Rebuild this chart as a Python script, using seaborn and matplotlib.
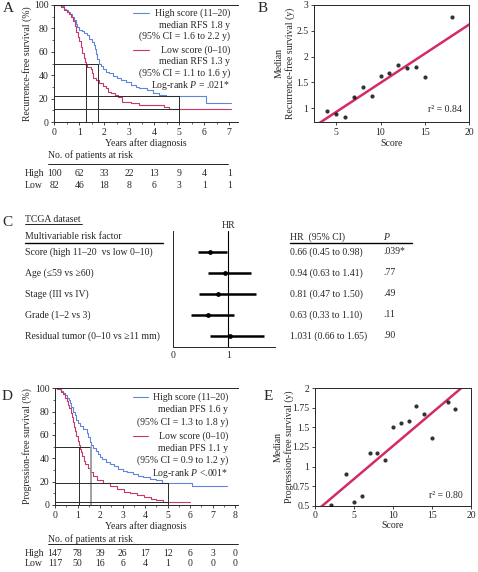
import numpy as np
import matplotlib
matplotlib.use('Agg')
import matplotlib.pyplot as plt
from matplotlib.lines import Line2D
from matplotlib.ticker import MultipleLocator, FixedLocator
from matplotlib.transforms import blended_transform_factory
import seaborn as sns

# ---------------- data ----------------
# Panel A: recurrence-free survival (Kaplan-Meier steps)
A_high_time = [0, 0.28, 0.38, 0.45, 0.55, 0.62, 0.7, 0.78, 0.85, 0.92, 1.0, 1.1, 1.2, 1.3, 1.4, 1.5,
               1.58, 1.64, 1.68, 1.72, 1.78, 1.85, 1.95, 2.05, 2.2, 2.35, 2.5, 2.65, 2.85, 3.05, 3.25,
               3.4, 3.7, 3.95, 4.2, 4.45, 6.05, 7.05]
A_high_surv = [100, 99, 97, 95.5, 94, 92.5, 90, 87, 84, 81, 79, 77.5, 76, 74, 71, 68.5,
               66, 62, 58, 54, 50, 47.5, 45, 43, 41.5, 39.5, 38, 36, 34, 32, 30,
               29, 27.5, 25, 23.5, 22, 16, 16]
A_low_time = [0, 0.25, 0.4, 0.5, 0.6, 0.68, 0.75, 0.82, 0.88, 0.94, 1.0, 1.06, 1.12, 1.18, 1.22,
              1.26, 1.32, 1.45, 1.5, 1.56, 1.66, 1.8, 1.95, 2.08, 2.16, 2.28, 2.42, 2.55, 2.7,
              3.05, 3.4, 4.4, 4.6, 7.05]
A_low_surv = [100, 98, 96, 94, 92, 90, 86, 82, 77, 73, 69, 64, 59, 55, 51,
              48.5, 47, 45.5, 42, 38, 36, 33, 30.5, 29, 26, 24.5, 23.5, 21.5, 17.5,
              16, 14.5, 13, 11, 11]
A_medians = [1.27, 1.73]          # low, high
A_five_year = [11, 22]            # low, high
A_years = [0, 1, 2, 3, 4, 5, 6, 7]
A_risk_high = [100, 62, 33, 22, 13, 9, 4, 1]
A_risk_low = [82, 46, 18, 8, 6, 3, 1, 1]

# Panel B: median RFS vs score
B_score = [4, 5, 6, 7, 8, 9, 10, 11, 12, 13, 14, 15, 18]
B_median = [0.95, 0.89, 0.83, 1.22, 1.40, 1.24, 1.63, 1.69, 1.83, 1.78, 1.79, 1.60, 2.76]

# Panel C: forest plot (TCGA)
C_factors = ["Score (high 11\u201320  vs low 0\u201310)", "Age (\u226459 vs \u226560)",
             "Stage (III vs IV)", "Grade (1\u20132 vs 3)", "Residual tumor (0\u201310 vs \u226511 mm)"]
C_hr = [0.66, 0.94, 0.81, 0.63, 1.031]
C_lo = [0.45, 0.63, 0.47, 0.33, 0.66]
C_hi = [0.98, 1.41, 1.50, 1.10, 1.65]
C_hr_text = ["0.66 (0.45 to 0.98)", "0.94 (0.63 to 1.41)", "0.81 (0.47 to 1.50)",
             "0.63 (0.33 to 1.10)", "1.031 (0.66 to 1.65)"]
C_p = [".039*", ".77", ".49", ".11", ".90"]

# Panel D: progression-free survival
D_high_time = [0, 0.15, 0.25, 0.35, 0.45, 0.52, 0.6, 0.67, 0.73, 0.8, 0.87, 0.93, 1.0, 1.1, 1.25,
               1.4, 1.48, 1.55, 1.62, 1.7, 1.8, 1.9, 2.0, 2.1, 2.25, 2.45, 2.6, 2.8, 3.0, 3.2,
               3.45, 3.7, 3.9, 4.2, 4.5, 4.75, 6.1, 7.65]
D_high_surv = [100, 99, 97.5, 96, 94, 92, 90, 87, 84, 80, 77, 73, 70, 67.5, 65,
               62, 58, 54, 51, 49, 46, 43.5, 41, 39, 37, 35, 33, 31, 29.5, 28,
               26.5, 25, 24, 22.5, 21, 19, 16, 16]
D_low_time = [0, 0.1, 0.25, 0.35, 0.45, 0.52, 0.58, 0.64, 0.7, 0.75, 0.8, 0.85, 0.9, 0.95, 1.0,
              1.05, 1.1, 1.15, 1.2, 1.27, 1.35, 1.45, 1.55, 1.7, 1.85, 2.15, 2.45, 2.75, 3.05,
              3.35, 3.65, 3.95, 4.25, 4.5, 4.8, 6.0]
D_low_surv = [100, 99, 97, 95, 92, 89, 86, 83, 79, 75, 71, 67, 63, 59, 55,
              51, 48, 45, 42, 38, 35, 32, 28, 25, 21, 19, 16, 13.5, 11.5,
              10, 8.5, 7, 5.5, 4.5, 2.5, 2.5]
D_medians = [1.08, 1.59]
D_five_year = [2.5, 19]
D_years = [0, 1, 2, 3, 4, 5, 6, 7, 8]
D_risk_high = [147, 78, 39, 26, 17, 12, 6, 3, 0]
D_risk_low = [117, 50, 16, 6, 4, 1, 0, 0, 0]

# Panel E: median PFS vs score
E_score = [2, 4, 5, 6, 7, 8, 9, 10, 11, 12, 13, 14, 15, 17, 18]
E_median = [0.51, 0.91, 0.55, 0.63, 1.17, 1.17, 1.08, 1.50, 1.56, 1.58, 1.78, 1.67, 1.36, 1.83, 1.74]

# ---------------- style ----------------
sns.set_style('ticks')
plt.rcParams['font.family'] = ['Liberation Serif', 'DejaVu Serif']
plt.rcParams['mathtext.fontset'] = 'custom'
plt.rcParams['mathtext.rm'] = 'Liberation Serif'
plt.rcParams['mathtext.it'] = 'Liberation Serif:italic'
plt.rcParams['axes.linewidth'] = 0.7

FS = 7
BLUE = '#5f86dc'
PINK = '#c8386c'
REG = '#d42a6a'
REFC = '#2a2a2a'

W, H = 478, 572
fig = plt.figure(figsize=(W / 100, H / 100), dpi=100)


def rect(l, t, r, b):
    return [l / W, 1 - b / H, (r - l) / W, (b - t) / H]


def ftext(x, y, s, **kw):
    kw.setdefault('fontsize', FS)
    return fig.text(x / W, 1 - y / H, s, **kw)


def fline(x1, x2, y, lw=0.6, color='black'):
    fig.add_artist(Line2D([x1 / W, x2 / W], [1 - y / H, 1 - y / H], lw=lw, color=color))


def style_ticks(ax):
    ax.tick_params(which='major', direction='out', length=2.5, width=0.6, labelsize=FS, pad=1.5)
    ax.tick_params(which='minor', direction='out', length=1.5, width=0.5)


def km_panel(ax, ht, hs, lt, ls, meds, fy, xmax, years, risk_hi, risk_lo, y_table, y_hi, y_lo,
             leg_lines, leg_right, leg_y, line_x, med_colors):
    sns.lineplot(x=ht, y=hs, ax=ax, drawstyle='steps-post', color=BLUE, lw=0.8, estimator=None)
    sns.lineplot(x=lt, y=ls, ax=ax, drawstyle='steps-post', color=PINK, lw=0.8, estimator=None)
    # median and 5-year reference lines
    ax.plot([0, meds[1]], [50, 50], color=REFC, lw=0.7)
    ax.plot([meds[0], meds[0]], [0, 50], color=med_colors[0], lw=0.7)
    ax.plot([meds[1], meds[1]], [0, 50], color=med_colors[1], lw=0.7 if med_colors[1] == REFC else 1.3)
    ax.plot([0, 5], [fy[1], fy[1]], color=REFC, lw=0.7)
    ax.plot([0, 5], [fy[0], fy[0]], color=REFC, lw=0.7)
    ax.plot([5, 5], [0, fy[1]], color=REFC, lw=0.7)
    ax.set_xlim(0, xmax)
    ax.set_ylim(0, 100)
    ax.xaxis.set_major_locator(MultipleLocator(1))
    ax.xaxis.set_minor_locator(MultipleLocator(0.5))
    ax.yaxis.set_major_locator(MultipleLocator(20))
    ax.yaxis.set_minor_locator(MultipleLocator(10))
    ax.set_xlabel('')
    ax.set_ylabel('')
    style_ticks(ax)
    sns.despine(ax=ax, top=False, right=True)
    # legend (text right aligned)
    for txt, y in zip(leg_lines, leg_y):
        ftext(leg_right, y, txt, ha='right', va='center')
    fline(line_x[0], line_x[1], leg_y[0], lw=0.8, color=BLUE)
    fline(line_x[0], line_x[1], leg_y[3], lw=0.8, color=PINK)
    # risk table
    tr = blended_transform_factory(ax.transData, fig.transFigure)
    for yr, a, b in zip(years, risk_hi, risk_lo):
        ax.text(yr, 1 - y_hi / H, str(a), transform=tr, ha='center', va='center', fontsize=FS)
        ax.text(yr, 1 - y_lo / H, str(b), transform=tr, ha='center', va='center', fontsize=FS)
    ftext(25, y_hi, 'High', ha='left', va='center')
    ftext(25, y_lo, 'Low', ha='left', va='center')
    ftext(48, y_table, 'No. of patients at risk', ha='left', va='center')


# ---------------- Panel A ----------------
axA = fig.add_axes(rect(54.3, 5, 238, 122))
km_panel(axA, A_high_time, A_high_surv, A_low_time, A_low_surv, A_medians, A_five_year, 7.35,
         A_years, A_risk_high, A_risk_low, 155.5, 173, 186,
         ["High score (11\u201320)", "median RFS 1.8 y", "(95% CI = 1.6 to 2.2 y)",
          "Low score (0\u201310)", "median RFS 1.3 y", "(95% CI = 1.1 to 1.6 y)",
          "Log-rank $P$ = .021*"],
         230, [13, 25, 36.5, 50, 62, 73.5, 86], (133, 149), (REFC, REFC))
fline(48, 228, 163.5, lw=0.6)
ftext(27, 63.5, 'Recurrence-free survival (%)', rotation=90, ha='center', va='center')
ftext(146, 143.5, 'Years after diagnosis', ha='center', va='center')

# ---------------- Panel B ----------------
axB = fig.add_axes(rect(314, 5, 469.3, 122))
axB.set_xlim(2.5, 20)
axB.set_ylim(0.73, 3)
sns.regplot(x=B_score, y=B_median, ax=axB, ci=None, truncate=False,
            scatter_kws=dict(s=9, color='black', linewidths=0, zorder=3),
            line_kws=dict(color=REG, lw=1.8, zorder=2))
axB.set_xlim(2.5, 20)
axB.set_ylim(0.73, 3)
axB.xaxis.set_major_locator(FixedLocator([5, 10, 15, 20]))
axB.yaxis.set_major_locator(FixedLocator([1, 1.5, 2, 2.5, 3]))
axB.set_yticklabels(['1', '1.5', '2', '2.5', '3'])
axB.set_xticklabels(['5', '10', '15', '20'])
style_ticks(axB)
sns.despine(ax=axB, top=False, right=False)
axB.set_xlabel('')
axB.set_ylabel('')
ftext(285, 63.5, 'Median\nRecurrence-free survival (y)', rotation=90, ha='center', va='center',
      multialignment='center', linespacing=1.15)
ftext(392, 143.5, 'Score', ha='center', va='center')
ftext(462, 110, 'r\u00b2 = 0.84', ha='right', va='center')

# ---------------- Panel C ----------------
axC = fig.add_axes(rect(173, 230.7, 275, 346.7))
rows = np.arange(len(C_hr))
axC.hlines(y=rows, xmin=C_lo, xmax=C_hi, color='black', lw=1.8)
sns.scatterplot(x=C_hr, y=rows, ax=axC, color='black', s=12, linewidth=0, zorder=3)
axC.axvline(1, color='black', lw=0.8)
axC.set_xlim(0, 1.84)
axC.set_ylim(4.52, -1.0)
axC.set_yticks([])
axC.xaxis.set_major_locator(FixedLocator([0, 1]))
axC.set_xticklabels(['0', '1'])
style_ticks(axC)
axC.tick_params(axis='x', length=0, pad=3)
sns.despine(ax=axC, top=True, right=True)
axC.set_xlabel('')
axC.set_ylabel('')
trC = blended_transform_factory(fig.transFigure, axC.transData)
for i in rows:
    axC.text(25 / W, i, C_factors[i], transform=trC, ha='left', va='center', fontsize=FS)
    axC.text(290 / W, i, C_hr_text[i], transform=trC, ha='left', va='center', fontsize=FS)
    axC.text(383 / W, i, C_p[i], transform=trC, ha='left', va='center', fontsize=FS)
ftext(228.3, 225, 'HR', ha='center', va='center')
ftext(25, 219.5, 'TCGA dataset', ha='left', va='center')
fline(25, 82, 223.5, lw=0.6)
ftext(25, 236.7, 'Multivariable risk factor', ha='left', va='center')
fline(25, 163, 242.5, lw=1.0)
ftext(290, 236.7, 'HR  (95% CI)', ha='left', va='center')
ftext(383, 236.7, '$P$', ha='left', va='center')
fline(290, 412, 242.5, lw=1.0)

# ---------------- Panel D ----------------
axD = fig.add_axes(rect(55, 388.3, 238, 505))
km_panel(axD, D_high_time, D_high_surv, D_low_time, D_low_surv, D_medians, D_five_year, 8.13,
         D_years, D_risk_high, D_risk_low, 539, 553.5, 563.5,
         ["High score (11\u201320)", "median PFS 1.6 y", "(95% CI = 1.3 to 1.8 y)",
          "Low score (0\u201310)", "median PFS 1.1 y", "(95% CI = 0.9 to 1.2 y)",
          "Log-rank $P$ <.001*"],
         228, [396.7, 410, 421.7, 435.7, 448.3, 460, 473.3], (133, 148), (REFC, '#9a9a9a'))
fline(48, 238, 543.5, lw=0.6)
ftext(27, 446.5, 'Progression-free survival (%)', rotation=90, ha='center', va='center')
ftext(146, 526, 'Years after diagnosis', ha='center', va='center')

# ---------------- Panel E ----------------
axE = fig.add_axes(rect(315, 388.3, 471, 505.7))
axE.set_xlim(0, 20)
axE.set_ylim(0.5, 2)
sns.regplot(x=E_score, y=E_median, ax=axE, ci=None, truncate=False,
            scatter_kws=dict(s=9, color='black', linewidths=0, zorder=3),
            line_kws=dict(color=REG, lw=1.8, zorder=2))
axE.set_xlim(0, 20)
axE.set_ylim(0.5, 2)
axE.xaxis.set_major_locator(FixedLocator([0, 5, 10, 15, 20]))
axE.set_xticklabels(['0', '5', '10', '15', '20'])
axE.yaxis.set_major_locator(FixedLocator([0.5, 0.75, 1, 1.25, 1.5, 1.75, 2]))
axE.set_yticklabels(['0.5', '0.75', '1', '1.25', '1.5', '1.75', '2'])
style_ticks(axE)
sns.despine(ax=axE, top=False, right=False)
axE.set_xlabel('')
axE.set_ylabel('')
ftext(283.5, 447, 'Median\nProgression-free survival (y)', rotation=90, ha='center', va='center',
      multialignment='center', linespacing=1.15)
ftext(393, 526, 'Score', ha='center', va='center')
ftext(463, 495, 'r\u00b2 = 0.80', ha='right', va='center')

# ---------------- panel letters ----------------
for letter, x, y in [('A', 8, 9), ('B', 263, 9), ('C', 7, 222), ('D', 7, 396), ('E', 268, 397)]:
    ftext(x, y, letter, ha='center', va='center', fontsize=11)

fig.savefig('out.png', dpi=100)
